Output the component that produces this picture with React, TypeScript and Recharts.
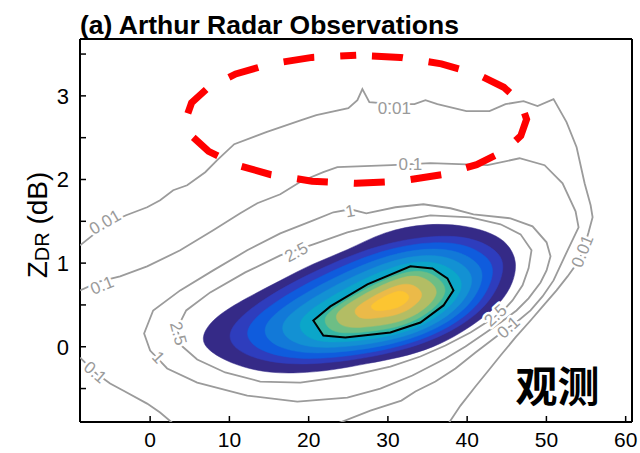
import React from 'react';
import { ScatterChart, Scatter, XAxis, YAxis } from 'recharts';

type P = { x: number; y: number };
const toPts = (rows: number[][]): P[] => rows.map(([x, y]) => ({ x, y }));

const FONT = '"Liberation Sans", Arial, Helvetica, sans-serif';
const GRAY = '#9b9b9b';

const X_TICKS = [0, 10, 20, 30, 40, 50, 60];
const Y_TICKS = [-0.5, 0, 0.5, 1, 1.5, 2, 2.5, 3, 3.5];

// filled density levels, outermost first
const LEVEL_0 = toPts([[6.32, 0.11], [7.96, 0.35], [12.25, 0.59], [16.42, 0.79], [20.59, 1.0], [24.88, 1.15], [29.43, 1.38], [34.99, 1.48], [40.04, 1.45], [43.32, 1.35], [45.09, 1.24], [46.35, 1.03], [45.85, 0.76], [44.21, 0.52], [42.06, 0.35], [39.16, 0.16], [35.75, -0.01], [31.58, -0.13], [27.41, -0.2], [23.12, -0.28], [18.57, -0.32], [14.27, -0.31], [10.1, -0.2], [7.2, -0.04]]);
const LEVEL_1 = toPts([[8.69, 0.144], [14.0, 0.572], [21.73, 0.955], [30.0, 1.27], [39.31, 1.366], [43.83, 1.167], [45.0, 0.953], [43.01, 0.514], [38.31, 0.18], [31.36, -0.078], [19.58, -0.249], [12.06, -0.144]]);
const LEVEL_2 = toPts([[11.08, 0.179], [15.75, 0.554], [22.86, 0.913], [30.57, 1.209], [38.56, 1.281], [42.57, 1.096], [43.67, 0.898], [41.81, 0.51], [37.48, 0.203], [31.16, -0.029], [20.59, -0.177], [14.02, -0.089]]);
const LEVEL_3 = toPts([[13.45, 0.213], [17.49, 0.536], [24.0, 0.871], [31.14, 1.147], [37.83, 1.195], [41.3, 1.027], [42.31, 0.841], [40.61, 0.506], [36.63, 0.225], [30.95, 0.021], [21.6, -0.105], [15.98, -0.033]]);
const LEVEL_4 = toPts([[15.83, 0.246], [19.24, 0.518], [25.14, 0.829], [31.7, 1.084], [37.1, 1.108], [40.04, 0.957], [40.96, 0.785], [39.41, 0.502], [35.78, 0.246], [30.73, 0.071], [22.61, -0.033], [17.94, 0.023]]);
const LEVEL_5 = toPts([[18.21, 0.281], [20.99, 0.5], [26.27, 0.787], [32.27, 1.023], [36.35, 1.019], [38.78, 0.887], [39.62, 0.73], [38.21, 0.498], [34.95, 0.269], [30.53, 0.12], [23.62, 0.039], [19.89, 0.078]]);
const LEVEL_7 = toPts([[21.59, 0.338], [23.52, 0.489], [27.73, 0.726], [32.61, 0.92], [35.11, 0.899], [36.82, 0.791], [37.5, 0.662], [36.36, 0.5], [33.75, 0.317], [30.34, 0.209], [25.22, 0.155], [22.72, 0.177]]);
const LEVEL_8 = toPts([[23.09, 0.374], [24.69, 0.5], [28.21, 0.698], [32.27, 0.859], [34.36, 0.841], [35.78, 0.751], [36.35, 0.644], [35.4, 0.508], [33.22, 0.356], [30.38, 0.266], [26.12, 0.221], [24.04, 0.239]]);
const LEVEL_9 = toPts([[25.58, 0.434], [26.65, 0.518], [28.99, 0.65], [31.7, 0.757], [33.09, 0.746], [34.04, 0.686], [34.42, 0.614], [33.79, 0.524], [32.34, 0.422], [30.44, 0.362], [27.6, 0.332], [26.21, 0.344]]);
const LEVEL_10 = toPts([[27.78, 0.487], [28.37, 0.534], [29.68, 0.608], [31.2, 0.668], [31.98, 0.662], [32.51, 0.628], [32.73, 0.587], [32.37, 0.537], [31.55, 0.48], [30.49, 0.446], [28.9, 0.429], [28.13, 0.437]]);

// black contour (also the edge of the teal level)
const CONTOUR_BLACK = toPts([[20.59, 0.314], [22.74, 0.482], [27.41, 0.746], [32.84, 0.961], [35.62, 0.937], [37.51, 0.817], [38.27, 0.674], [37.01, 0.494], [34.1, 0.29], [30.31, 0.171], [24.63, 0.111], [21.85, 0.135]]);

const OUTER_LEVELS = [LEVEL_0, LEVEL_1, LEVEL_2, LEVEL_3, LEVEL_4, LEVEL_5];
const OUTER_COLORS = ['#352a87', '#2e3dbd', '#0f5cdd', '#1279d8', '#1391d3', '#0ba6c9'];
const INNER_LEVELS = [LEVEL_7, LEVEL_8, LEVEL_9, LEVEL_10];
const INNER_COLORS = ['#6dbe85', '#b3bd64', '#ebba49', '#fcc531'];
const TEAL = '#35b6a3';

// gray contour lines
const CONTOUR_001 = toPts([[-8.84, 1.213], [-6.95, 1.356], [-5.05, 1.488], [-3.03, 1.572], [-0.38, 1.668], [1.26, 1.752], [2.91, 1.871], [4.67, 1.931], [6.95, 2.087], [8.46, 2.231], [10.61, 2.422], [14.65, 2.566], [19.07, 2.71], [20.97, 2.769], [25.01, 2.853], [26.15, 2.949], [26.78, 3.081], [27.66, 2.925], [30.69, 2.901], [33.35, 2.901], [34.74, 2.949], [36.25, 2.901], [39.91, 2.817], [42.82, 2.817], [44.84, 2.901], [47.11, 2.937], [48.88, 2.877], [50.9, 2.961], [52.54, 2.686], [53.81, 2.386], [54.82, 1.955], [55.58, 1.692], [55.83, 1.548], [55.32, 1.368], [54.57, 1.129], [53.68, 0.973], [52.67, 0.841], [51.28, 0.674], [49.64, 0.494], [48.0, 0.314], [46.1, 0.111], [44.21, -0.105], [42.69, -0.284], [41.05, -0.476], [39.16, -0.704], [37.64, -0.919]]);
const CONTOUR_01 = toPts([[-8.84, 0.674], [-6.32, 0.781], [-3.79, 0.841], [-0.38, 0.961], [3.79, 1.153], [7.96, 1.392], [11.37, 1.596], [13.52, 1.716], [16.42, 1.823], [19.07, 1.979], [21.85, 2.087], [23.62, 2.147], [30.44, 2.171], [35.37, 2.195], [42.57, 2.171], [46.61, 2.254], [49.77, 2.171], [52.04, 1.955], [53.68, 1.62], [54.06, 1.428], [52.67, 1.153], [50.9, 0.793], [49.51, 0.602], [48.0, 0.434], [46.48, 0.314], [45.22, 0.231], [43.7, 0.123], [41.05, -0.069], [38.53, -0.26], [36.0, -0.416], [33.47, -0.536], [31.7, -0.644], [27.79, -0.763], [23.62, -0.919]]);
const CONTOUR_01_CORNER = toPts([[-8.84, -0.129], [-6.95, -0.308], [-5.05, -0.44], [-3.41, -0.524], [-0.38, -0.68], [1.26, -0.787], [2.91, -0.919]]);
const CONTOUR_1 = toPts([[23.12, 1.608], [25.26, 1.644], [27.28, 1.596], [30.95, 1.668], [34.48, 1.704], [37.89, 1.656], [40.8, 1.584], [45.47, 1.536], [48.25, 1.44], [50.02, 1.249], [50.52, 1.081], [50.02, 0.913], [49.26, 0.769], [47.75, 0.578], [46.23, 0.434], [44.21, 0.29], [42.19, 0.159], [39.79, 0.003], [37.26, -0.141], [33.09, -0.344], [29.05, -0.5], [24.88, -0.608], [18.57, -0.656], [12.25, -0.584], [5.94, -0.428], [2.15, -0.26], [0.0, -0.045], [-0.76, 0.159], [0.38, 0.434], [3.79, 0.674], [7.96, 0.913], [12.25, 1.153], [16.42, 1.356], [20.59, 1.512]]);
const CONTOUR_25 = toPts([[20.59, 1.225], [24.88, 1.368], [29.43, 1.476], [35.37, 1.572], [40.42, 1.548], [44.21, 1.464], [46.74, 1.344], [48.12, 1.153], [47.75, 0.937], [46.99, 0.734], [45.72, 0.554], [44.59, 0.434], [43.2, 0.338], [40.42, 0.171], [37.26, 0.015], [34.1, -0.117], [30.31, -0.237], [25.26, -0.344], [18.95, -0.428], [13.89, -0.416], [9.47, -0.308], [5.94, -0.153], [3.92, 0.015], [3.41, 0.219], [4.55, 0.434], [7.58, 0.65], [12.0, 0.889], [16.42, 1.093]]);

// contour labels
const LABEL_TEXT = ['0.01', '0.1', '0.1', '1', '2.5', '2.5', '1', '0.01', '0.1', '0.01', '0.1', '2.5'];
const LABEL_X = [-5.68, -6.06, -6.95, 1.01, 3.54, 18.44, 25.26, 30.82, 32.84, 54.57, 45.22, 43.58];
const LABEL_Y = [1.488, 0.733, -0.308, -0.129, 0.159, 1.129, 1.62, 2.853, 2.183, 1.141, 0.231, 0.374];
const LABEL_ANGLE = [-30, -22, 40, 47, 75, -28, -10, 0, 0, -68, -42, -42];
const CONTOUR_LABELS = LABEL_TEXT.map((text, i) => ({ x: LABEL_X[i], y: LABEL_Y[i], text, angle: LABEL_ANGLE[i] }));

// highlighted region (red dashed ellipse), starting at the top
const HIGHLIGHT = toPts([[26.0, 3.486], [20.43, 3.46], [15.25, 3.383], [10.8, 3.262], [7.38, 3.103], [5.23, 2.918], [4.5, 2.72], [5.23, 2.522], [7.38, 2.337], [10.8, 2.178], [15.25, 2.057], [20.43, 1.98], [26.0, 1.954], [31.57, 1.98], [36.75, 2.057], [41.2, 2.178], [44.62, 2.337], [46.77, 2.522], [47.5, 2.72], [46.77, 2.918], [44.62, 3.103], [41.2, 3.262], [36.75, 3.383], [31.57, 3.46]]);

const NOTE = [{ x: 51.41, y: -0.44, text: '观测' }];

const noDot = () => <g />;

const renderContourLabel = (p: any) => (
  <text
    x={p.cx}
    y={p.cy}
    transform={`rotate(${p.payload.angle} ${p.cx} ${p.cy})`}
    textAnchor="middle"
    dominantBaseline="central"
    fontFamily={FONT}
    fontSize={17}
    fill="#9a9a9a"
    stroke="#fff"
    strokeWidth={5}
    strokeLinejoin="round"
    style={{ paintOrder: 'stroke' }}
  >
    {p.payload.text}
  </text>
);

const renderNote = (p: any) => (
  <text
    x={p.cx}
    y={p.cy}
    textAnchor="middle"
    dominantBaseline="central"
    fontFamily='"Noto Sans CJK SC", sans-serif'
    fontWeight="bold"
    fontSize={42}
    fill="#000"
  >
    {p.payload.text}
  </text>
);

const yFmt = (v: number) => (Number.isInteger(v) ? String(v) : '');

export default function App() {
  const axisLine = { stroke: '#000', strokeWidth: 2 };
  const tickLine = { stroke: '#000', strokeWidth: 1.5 };
  const xTickFont = { fontSize: 21, fill: '#000', fontFamily: FONT };
  const yTickFont = { fontSize: 22, fill: '#000', fontFamily: FONT };
  return (
    <div style={{ position: 'absolute', left: 0, top: 0, width: 640, height: 453, background: '#fff' }}>
      <ScatterChart width={640} height={453} margin={{ top: 37, right: 6, bottom: 1, left: 8 }}>
        <XAxis type="number" dataKey="x" domain={[-8.85, 60.8]} ticks={X_TICKS} allowDataOverflow
          height={30} axisLine={axisLine} tickLine={tickLine} tickSize={-6} tickMargin={16} tick={xTickFont} />
        <XAxis xAxisId="top" orientation="top" type="number" dataKey="x" domain={[-8.85, 60.8]} ticks={X_TICKS}
          allowDataOverflow height={2} axisLine={axisLine} tickLine={tickLine} tickSize={-6} tick={false} />
        <YAxis type="number" dataKey="y" domain={[-0.9, 3.68]} ticks={Y_TICKS} allowDataOverflow width={72}
          axisLine={axisLine} tickLine={tickLine} tickSize={-6} tickMargin={17} tick={yTickFont} tickFormatter={yFmt} />
        <YAxis yAxisId="right" orientation="right" type="number" dataKey="y" domain={[-0.9, 3.68]} ticks={Y_TICKS}
          allowDataOverflow width={2} axisLine={axisLine} tickLine={tickLine} tickSize={-6} tick={false} />

        {OUTER_LEVELS.map((lv, i) => (
          <Scatter key={`o${i}`} data={lv} shape={noDot} isAnimationActive={false}
            line={{ fill: OUTER_COLORS[i], stroke: OUTER_COLORS[i], strokeWidth: 0.5 }} lineJointType="basisClosed" />
        ))}
        <Scatter data={CONTOUR_BLACK} shape={noDot} isAnimationActive={false}
          line={{ fill: TEAL, stroke: TEAL, strokeWidth: 0.5 }} lineJointType="linearClosed" />
        {INNER_LEVELS.map((lv, i) => (
          <Scatter key={`i${i}`} data={lv} shape={noDot} isAnimationActive={false}
            line={{ fill: INNER_COLORS[i], stroke: INNER_COLORS[i], strokeWidth: 0.5 }} lineJointType="basisClosed" />
        ))}

        <Scatter data={CONTOUR_001} shape={noDot} isAnimationActive={false} line={{ stroke: GRAY, strokeWidth: 1.8 }} lineJointType="linear" />
        <Scatter data={CONTOUR_01} shape={noDot} isAnimationActive={false} line={{ stroke: GRAY, strokeWidth: 1.8 }} lineJointType="linear" />
        <Scatter data={CONTOUR_01_CORNER} shape={noDot} isAnimationActive={false} line={{ stroke: GRAY, strokeWidth: 1.8 }} lineJointType="linear" />
        <Scatter data={CONTOUR_1} shape={noDot} isAnimationActive={false} line={{ stroke: GRAY, strokeWidth: 1.8 }} lineJointType="linearClosed" />
        <Scatter data={CONTOUR_25} shape={noDot} isAnimationActive={false} line={{ stroke: GRAY, strokeWidth: 1.8 }} lineJointType="linearClosed" />
        <Scatter data={CONTOUR_BLACK} shape={noDot} isAnimationActive={false} line={{ stroke: '#000', strokeWidth: 2 }} lineJointType="linearClosed" />

        <Scatter data={CONTOUR_LABELS} shape={renderContourLabel} isAnimationActive={false} />

        <Scatter data={HIGHLIGHT} shape={noDot} isAnimationActive={false}
          line={{ stroke: '#ff0000', strokeWidth: 7, strokeDasharray: '31 26', strokeDashoffset: 15 }} lineJointType="linearClosed" />
        <Scatter data={NOTE} shape={renderNote} isAnimationActive={false} />
      </ScatterChart>

      <svg width={640} height={453} style={{ position: 'absolute', left: 0, top: 0, pointerEvents: 'none' }}>
        <text x={80} y={34} fontFamily={FONT} fontWeight="bold" fontSize={26.5} fill="#000">
          (a) Arthur Radar Observations
        </text>
        <text x={47} y={225} transform="rotate(-90 47 225)" textAnchor="middle" fontFamily={FONT} fontSize={28} fill="#000">
          Z<tspan fontSize={20} dy={2}>DR</tspan>
          <tspan dy={-2}> (dB)</tspan>
        </text>
      </svg>
    </div>
  );
}
